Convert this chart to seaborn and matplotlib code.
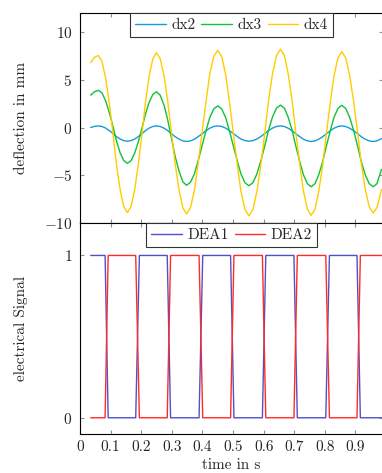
import numpy as np
import pandas as pd
import matplotlib
matplotlib.use("Agg")
import matplotlib.pyplot as plt
import seaborn as sns

# ---- data ----
t_dx = [0.035, 0.047, 0.060, 0.072, 0.084, 0.096, 0.108, 0.119, 0.131, 0.143, 0.155,
        0.167, 0.179, 0.191, 0.203, 0.214, 0.226, 0.238, 0.250,
        0.262, 0.275, 0.287, 0.299, 0.311, 0.324, 0.336, 0.348,
        0.361, 0.374, 0.386, 0.399, 0.412, 0.424, 0.437, 0.450,
        0.463, 0.476, 0.488, 0.501, 0.514, 0.526, 0.539, 0.552,
        0.565, 0.578, 0.591, 0.604, 0.616, 0.629, 0.642, 0.655,
        0.668, 0.680, 0.693, 0.705, 0.718, 0.730, 0.743, 0.755,
        0.768, 0.780, 0.793, 0.805, 0.818, 0.830, 0.843, 0.855,
        0.868, 0.881, 0.894, 0.907, 0.919, 0.932, 0.945, 0.958,
        0.970, 0.985]

dx4 = [6.8, 7.35, 7.55, 6.92, 5.14, 2.48, -0.68, -3.83, -6.49, -8.28, -8.9,
       -8.26, -6.45, -3.73, -0.53, 2.68, 5.40, 7.21, 7.85,
       7.21, 5.37, 2.64, -0.6, -3.84, -6.57, -8.41, -9.05,
       -8.40, -6.54, -3.76, -0.48, 2.81, 5.59, 7.45, 8.1,
       7.44, 5.56, 2.75, -0.58, -3.90, -6.71, -8.59, -9.25,
       -8.59, -6.69, -3.87, -0.53, 2.82, 5.64, 7.54, 8.2,
       7.54, 5.65, 2.83, -0.5, -3.83, -6.65, -8.54, -9.2,
       -8.55, -6.69, -3.91, -0.63, 2.66, 5.44, 7.30, 7.95,
       7.31, 5.47, 2.74, -0.5, -3.74, -6.47, -8.31, -8.95,
       -8.4, -6.5]

dx3 = [3.4, 3.75, 3.9, 3.61, 2.78, 1.54, 0.08, -1.39, -2.63, -3.46, -3.75,
       -3.47, -2.65, -1.44, 0.0, 1.44, 2.65, 3.47, 3.75,
       3.38, 2.31, 0.73, -1.15, -3.03, -4.61, -5.68, -6.05,
       -5.73, -4.83, -3.48, -1.89, -0.30, 1.05, 1.95, 2.27,
       1.95, 1.04, -0.31, -1.92, -3.52, -4.87, -5.78, -6.1,
       -5.78, -4.86, -3.49, -1.88, -0.26, 1.11, 2.03, 2.35,
       2.03, 1.10, -0.29, -1.93, -3.56, -4.95, -5.88, -6.2,
       -5.88, -4.95, -3.57, -1.94, -0.30, 1.08, 2.01, 2.33,
       2.01, 1.08, -0.30, -1.94, -3.57, -4.95, -5.88, -6.2,
       -5.9, -4.4]

dx2 = [0.0, 0.12, 0.17, 0.11, -0.06, -0.32, -0.63, -0.94, -1.20, -1.37, -1.43,
       -1.37, -1.20, -0.94, -0.63, -0.32, -0.06, 0.11, 0.17,
       0.11, -0.07, -0.33, -0.65, -0.96, -1.22, -1.40, -1.46,
       -1.40, -1.22, -0.96, -0.65, -0.33, -0.07, 0.11, 0.17,
       0.11, -0.06, -0.32, -0.63, -0.94, -1.20, -1.37, -1.43,
       -1.37, -1.20, -0.94, -0.63, -0.32, -0.06, 0.11, 0.17,
       0.11, -0.07, -0.33, -0.65, -0.96, -1.22, -1.40, -1.46,
       -1.40, -1.22, -0.96, -0.65, -0.33, -0.07, 0.11, 0.17,
       0.11, -0.07, -0.33, -0.65, -0.96, -1.22, -1.40, -1.46,
       -1.40, -1.15]

t_sig = [0.035, 0.082, 0.092, 0.182, 0.194, 0.285, 0.296, 0.389, 0.401, 0.492,
         0.503, 0.596, 0.607, 0.699, 0.710, 0.803, 0.815, 0.905, 0.916, 0.985]
dea1 = [1, 1, 0, 0, 1, 1, 0, 0, 1, 1, 0, 0, 1, 1, 0, 0, 1, 1, 0, 0]
dea2 = [0, 0, 1, 1, 0, 0, 1, 1, 0, 0, 1, 1, 0, 0, 1, 1, 0, 0, 1, 1]

x_ticks = [0, 0.1, 0.2, 0.3, 0.4, 0.5, 0.6, 0.7, 0.8, 0.9]
x_ticklabels = ["0", "0.1", "0.2", "0.3", "0.4", "0.5", "0.6", "0.7", "0.8", "0.9"]
y_ticks_top = [-10, -5, 0, 5, 10]
y_ticks_bot = [0, 1]

# ---- style ----
sns.set_style("white")
plt.rcParams["font.family"] = ["cmr10", "DejaVu Serif"]
plt.rcParams["mathtext.fontset"] = "cm"
plt.rcParams["axes.formatter.use_mathtext"] = True
plt.rcParams["font.size"] = 11
plt.rcParams["axes.unicode_minus"] = True

FS = 11
colors = {"dx2": "#159BDA", "dx3": "#10C236", "dx4": "#FFCC00",
          "DEA1": "#5050C8", "DEA2": "#FF2A2A"}

fig = plt.figure(figsize=(3.82, 4.73), dpi=100)
L = 80 / 382
W = 303 / 382
ax1 = fig.add_axes([L, 1 - 223 / 473, W, 210 / 473])
ax2 = fig.add_axes([L, 1 - 434 / 473, W, 211 / 473])

df_top = pd.DataFrame({"t": t_dx, "dx2": dx2, "dx3": dx3, "dx4": dx4})
for name in ["dx2", "dx3", "dx4"]:
    sns.lineplot(data=df_top, x="t", y=name, ax=ax1, color=colors[name],
                 lw=1.0, label=name, sort=False)

df_bot = pd.DataFrame({"t": t_sig, "DEA1": dea1, "DEA2": dea2})
for name in ["DEA1", "DEA2"]:
    sns.lineplot(data=df_bot, x="t", y=name, ax=ax2, color=colors[name],
                 lw=1.0, label=name, sort=False)

for ax in (ax1, ax2):
    ax.set_xlim(0, 0.99)
    ax.set_xticks(x_ticks)
    for s in ax.spines.values():
        s.set_color("black")
        s.set_linewidth(0.8)
    ax.tick_params(direction="in", length=3, width=0.8, color="#909090",
                   top=True, right=True, bottom=True, left=True, labelsize=FS)
    ax.tick_params(axis="y", pad=5.5)
    ax.tick_params(axis="x", pad=4.5)
    ax.grid(False)

ax1.set_ylim(-10, 12)
ax1.set_yticks(y_ticks_top)
ax1.tick_params(labelbottom=False)
ax1.set_xlabel("")
ax1.set_ylabel("deflection in mm", fontsize=FS)
ax1.yaxis.set_label_coords(-0.172, 0.5)

ax2.set_ylim(-0.1, 1.2)
ax2.set_yticks(y_ticks_bot)
ax2.set_xticklabels(x_ticklabels)
ax2.set_xlabel("time in s", fontsize=FS)
ax2.xaxis.set_label_coords(0.5, -0.115)
ax2.set_ylabel("electrical Signal", fontsize=FS)
ax2.yaxis.set_label_coords(-0.172, 0.5)

for ax, n in ((ax1, 3), (ax2, 2)):
    leg = ax.legend(loc="upper center", ncol=n, frameon=True, fancybox=False,
                    borderaxespad=0, handlelength=2.0, handletextpad=0.35,
                    columnspacing=0.4, borderpad=0.35, fontsize=FS)
    fr = leg.get_frame()
    fr.set_edgecolor("#333333")
    fr.set_linewidth(0.8)
    fr.set_alpha(1)

fig.savefig("out.png", dpi=100)
